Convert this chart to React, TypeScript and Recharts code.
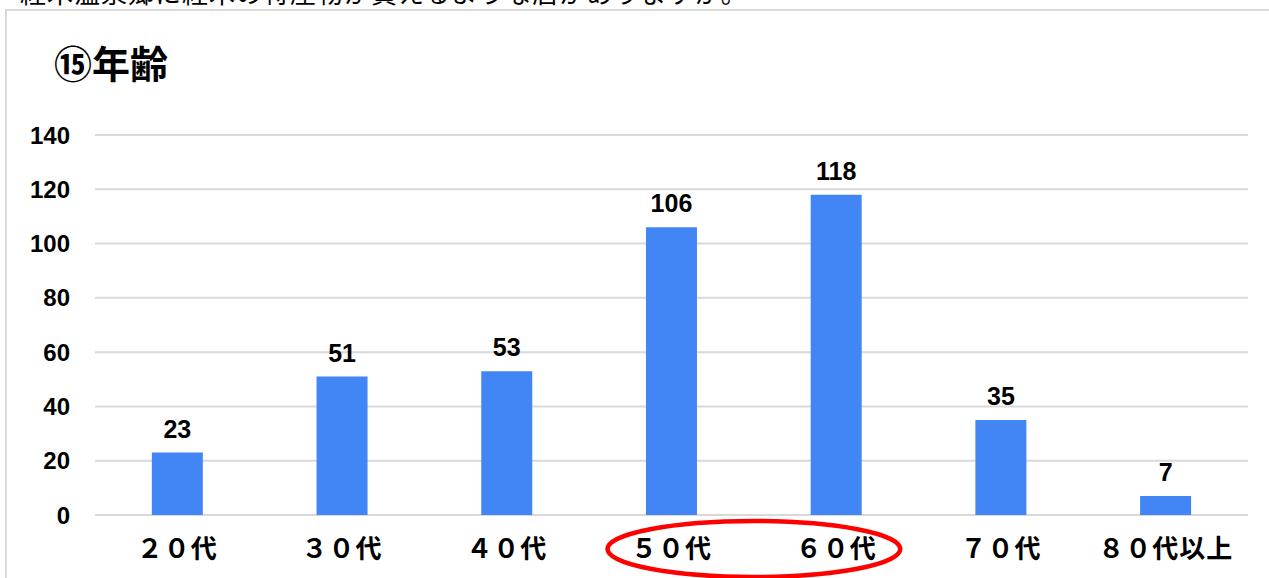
import React from "react";
import { BarChart, Bar, XAxis, YAxis, CartesianGrid, LabelList } from "recharts";

const categories = ["２０代", "３０代", "４０代", "５０代", "６０代", "７０代", "８０代以上"];
const counts = [23, 51, 53, 106, 118, 35, 7];
const yTicks = [0, 20, 40, 60, 80, 100, 120, 140];
const title = "⑮年齢";
const topText = "経木温泉郷に経木の特産物が買えるような店がありますか。";
const highlighted = ["５０代", "６０代"];

const data = categories.map((c, i) => ({ name: c, value: counts[i] }));

const W = 1269;
const H = 578;
const M = { top: 135, right: 21, left: 0, bottom: 13 };
const Y_W = 95;
const X_H = 50;
const FONT = "'Liberation Sans', Arial, 'Noto Sans CJK JP', sans-serif";

export default function App() {
  const plotLeft = M.left + Y_W;
  const plotRight = W - M.right;
  const band = (plotRight - plotLeft) / categories.length;
  const i0 = categories.indexOf(highlighted[0]);
  const i1 = categories.indexOf(highlighted[1]);
  const cx = plotLeft + band * ((i0 + i1) / 2 + 0.5);
  const rx = band * (i1 - i0) / 2 + 64;
  const plotBottom = H - M.bottom - X_H;
  const cy = plotBottom + 34;

  return (
    <div style={{ position: "absolute", left: 0, top: 0, width: W, height: H, overflow: "hidden", background: "#fff", fontFamily: FONT }}>
      <div style={{ position: "absolute", left: 20, top: -19, fontSize: 26, lineHeight: "26px", whiteSpace: "nowrap", color: "#000", letterSpacing: 1 }}>
        {topText}
      </div>
      <div style={{ position: "absolute", left: 5, top: 9, width: W, height: H, borderLeft: "2px solid #d9d9d9", borderTop: "2px solid #d9d9d9" }} />
      <div style={{ position: "absolute", left: 54, top: 42, fontSize: 38, fontWeight: "bold", lineHeight: "46px", color: "#000" }}>
        {title}
      </div>
      <div style={{ position: "absolute", left: 0, top: 0 }}>
        <BarChart width={W} height={H} data={data} margin={M} barCategoryGap="34.5%">
          <CartesianGrid vertical={false} stroke="#d9d9d9" strokeWidth={2} />
          <XAxis
            dataKey="name"
            axisLine={false}
            tickLine={false}
            tickSize={0}
            tickMargin={25}
            height={X_H}
            interval={0}
            tick={{ fill: "#000", fontSize: 26, fontWeight: "bold", fontFamily: FONT, letterSpacing: 1 }}
          />
          <YAxis
            domain={[0, 140]}
            ticks={yTicks}
            width={Y_W}
            axisLine={false}
            tickLine={false}
            tickSize={0}
            tickMargin={25}
            tick={{ fill: "#000", fontSize: 24, fontWeight: "bold", fontFamily: FONT }}
          />
          <Bar dataKey="value" fill="#4285F4" isAnimationActive={false}>
            <LabelList dataKey="value" position="top" offset={15} fill="#000" fontSize={25} fontWeight="bold" fontFamily={FONT} />
          </Bar>
        </BarChart>
      </div>
      <svg width={W} height={H} style={{ position: "absolute", left: 0, top: 0, pointerEvents: "none" }}>
        <ellipse cx={cx} cy={cy} rx={rx} ry={28} fill="none" stroke="#ff0000" strokeWidth={4.5} />
      </svg>
    </div>
  );
}
